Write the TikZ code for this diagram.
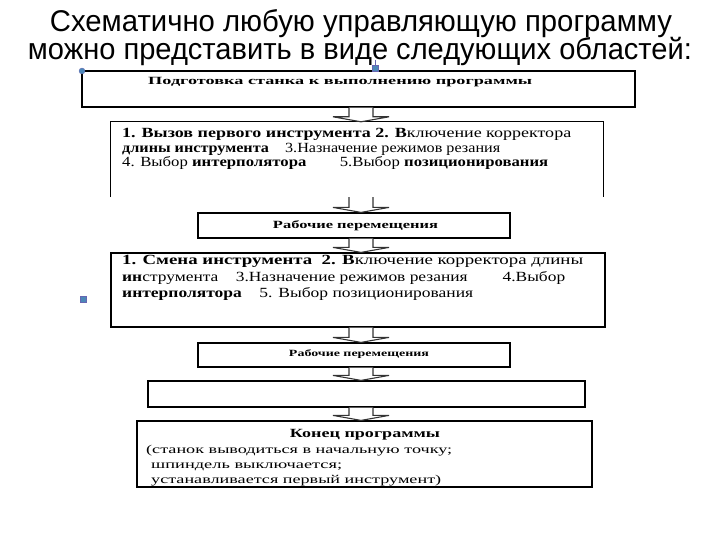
\documentclass[tikz,border=0pt]{standalone}
\usepackage{fontspec}
\setmainfont{Liberation Serif}
\newfontfamily\titlefont{Liberation Sans}
\usetikzlibrary{calc}
\newcommand{\fitto}[2]{\resizebox{#1}{\height}{#2}}
\tikzset{
  boxframe/.style={draw=black, line width=1.2pt, inner sep=0pt},
  txt/.style={inner sep=0pt, anchor=base west},
  ctxt/.style={inner sep=0pt, anchor=base},
  blockarrow/.style={draw=black!80, line width=1.1pt, fill=white},
  handle/.style={fill=blue!45!cyan!60!black!70, draw=blue!50!black!60, line width=0.3pt}
}
\newcommand{\barrow}[2]{%
  \path let \p1=(#1.south -| ax), \p2=(#2.north -| ax) in
    [blockarrow] (\x1-12pt,\y1) -- (\x1-12pt,\y2+5pt) -- (\x1-28pt,\y2+5pt)
    -- (\x1,\y2) -- (\x1+28pt,\y2+5pt) -- (\x1+12pt,\y2+5pt) -- (\x1+12pt,\y1);}
\begin{document}
\begin{tikzpicture}[x=1pt,y=-1pt]
\useasboundingbox (0,0) rectangle (720,540);
% title
\node[ctxt] (t1) at (361,32) {\fitto{622pt}{\titlefont\fontsize{30}{32}\selectfont Схематично любую управляющую программу}};
\node[ctxt] (t2) at (360,60) {\fitto{664pt}{\titlefont\fontsize{30}{32}\selectfont можно представить в виде следующих областей:}};
\coordinate (ax) at (361,0);
% boxes
\node[boxframe, minimum width=553pt, minimum height=36pt] (b1) at (358.5,89) {};
\node[inner sep=0pt, minimum width=492pt, minimum height=75pt] (b2) at (357,159.5) {};
\draw[line width=1.2pt] (b2.south west) -- (b2.north west) -- (b2.north east) -- (b2.south east);
\node[boxframe, minimum width=312pt, minimum height=25pt] (b3) at (354,225.5) {};
\node[boxframe, minimum width=494pt, minimum height=74pt] (b4) at (358,290) {};
\node[boxframe, minimum width=312pt, minimum height=24pt] (b5) at (354,355) {};
\node[boxframe, minimum width=437pt, minimum height=26pt] (b6) at (366.5,394) {};
\node[boxframe, minimum width=455pt, minimum height=66pt] (b7) at (364.5,454) {};
% arrows
\barrow{b1}{b2}
\barrow{b2}{b3}
\barrow{b3}{b4}
\barrow{b4}{b5}
\barrow{b5}{b6}
\barrow{b6}{b7}
% texts
\node[txt] (x1) at (148,85) {\fitto{384pt}{\fontsize{11}{12}\selectfont\bfseries Подготовка станка к выполнению программы}};
\node[txt] (x21) at (122,138) {\fitto{449pt}{\fontsize{14}{15}\selectfont\textbf{1. Вызов первого инструмента 2. В}ключение корректора}};
\node[txt] (x22) at (122,153) {\fitto{378pt}{\fontsize{14}{15}\selectfont\textbf{длины инструмента}\quad 3.Назначение режимов резания}};
\node[txt] (x23) at (122,167) {\fitto{426pt}{\fontsize{14}{15}\selectfont 4. Выбор \textbf{интерполятора}\qquad 5.Выбор \textbf{позиционирования}}};
\node[ctxt] (x3) at (355.5,229) {\fitto{165pt}{\fontsize{11}{12}\selectfont\bfseries Рабочие перемещения}};
\node[txt] (x41) at (122,264) {\fitto{461pt}{\fontsize{14}{15}\selectfont\textbf{1. Смена инструмента}\enspace\textbf{2. В}ключение корректора длины}};
\node[txt] (x42) at (122,281) {\fitto{443pt}{\fontsize{14}{15}\selectfont\textbf{ин}струмента\quad 3.Назначение режимов резания\qquad 4.Выбор}};
\node[txt] (x43) at (122,297) {\fitto{351pt}{\fontsize{14}{15}\selectfont\textbf{интерполятора}\quad 5. Выбор позиционирования}};
\node[ctxt] (x5) at (359,356) {\fitto{140pt}{\fontsize{9.5}{11}\selectfont\bfseries Рабочие перемещения}};
\node[ctxt] (x71) at (365,437) {\fitto{150pt}{\fontsize{12.5}{14}\selectfont\bfseries Конец программы}};
\node[txt] (x72) at (146,453) {\fitto{306pt}{\fontsize{12}{13}\selectfont (станок выводиться в начальную точку;}};
\node[txt] (x73) at (151,468) {\fitto{191pt}{\fontsize{12}{13}\selectfont шпиндель выключается;}};
\node[txt] (x74) at (151,483) {\fitto{290pt}{\fontsize{12}{13}\selectfont устанавливается первый инструмент)}};
% selection handles
\coordinate (hc) at (375,60);
\draw[blue!50!black!60, line width=0.6pt] (hc) -- (375,68);
\node[handle, circle, minimum size=6pt, inner sep=0pt] (h1) at (82,71) {};
\node[handle, rectangle, minimum size=6pt, inner sep=0pt] (h2) at (375,68) {};
\node[handle, rectangle, minimum size=6pt, inner sep=0pt] (h3) at (83,299) {};
\end{tikzpicture}
\end{document}
